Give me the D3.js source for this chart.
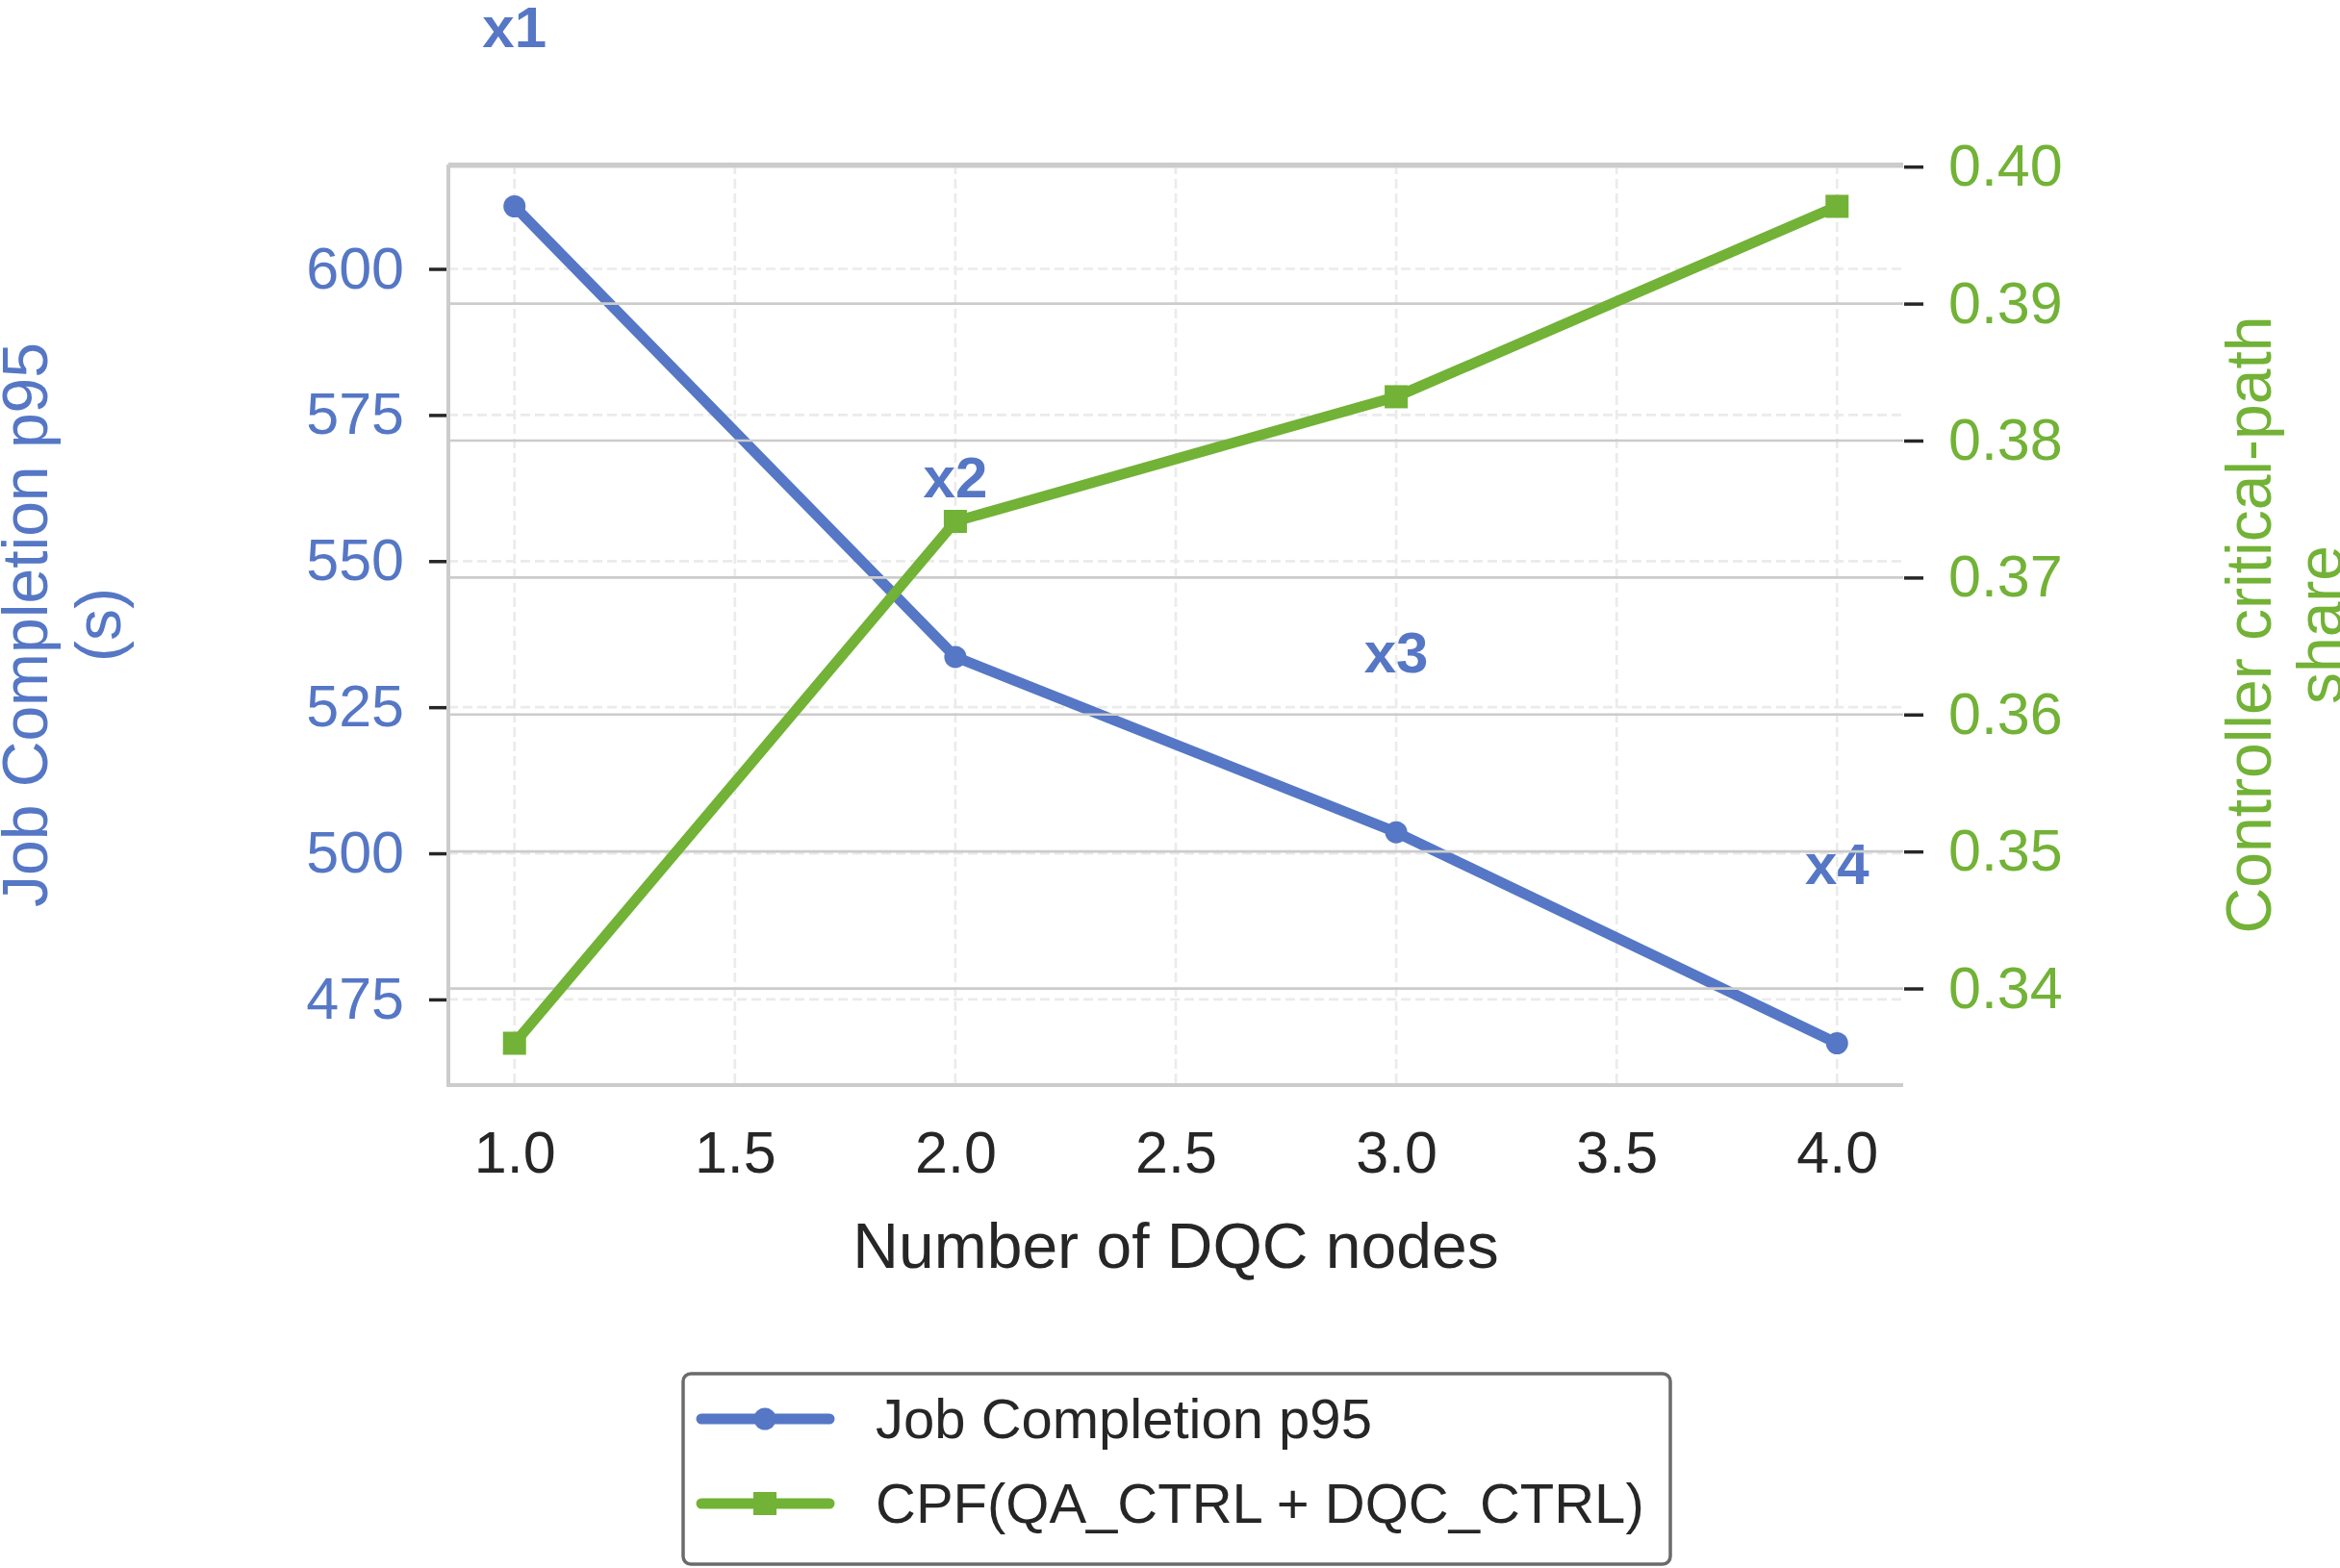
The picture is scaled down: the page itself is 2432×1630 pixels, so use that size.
<!DOCTYPE html>
<html>
<head>
<meta charset="utf-8">
<script src="https://cdn.jsdelivr.net/npm/d3@7"></script>
<style>
  body { margin: 0; background: #fff; }
  text { font-family: "Liberation Sans", Arial, sans-serif; }
</style>
</head>
<body>
<svg id="chart" width="2432" height="1630"></svg>
<script>
// data
const nodes = [1, 2, 3, 4];
const jobP95 = [610.7, 533.6, 503.6, 467.5];
const cpfShare = [0.3360, 0.3741, 0.3832, 0.3971];
const pointLabels = ["x1", "x2", "x3", "x4"];
const xTicks = [1.0, 1.5, 2.0, 2.5, 3.0, 3.5, 4.0];
const leftTicks = [475, 500, 525, 550, 575, 600];
const rightTicks = [0.34, 0.35, 0.36, 0.37, 0.38, 0.39, 0.40];
const seriesNames = ["Job Completion p95", "CPF(QA_CTRL + DQC_CTRL)"];

const BLUE = "#5577c5";
const GREEN = "#72b236";
const plot = { left: 466, right: 1978, top: 171, bottom: 1128 };

// matplotlib style 5% padding around the data
function padded(vals) {
    const lo = d3.min(vals), hi = d3.max(vals), m = (hi - lo) * 0.05;
    return [lo - m, hi + m];
}

const x = d3.scaleLinear().domain(padded(nodes)).range([plot.left, plot.right]);
const yL = d3.scaleLinear().domain(padded(jobP95)).range([plot.bottom, plot.top]);
const yR = d3.scaleLinear().domain(padded(cpfShare)).range([plot.bottom, plot.top]);

const svg = d3.select("#chart");

/* dashed grid of the left axis sits at the very bottom */
const gridL = svg.append("g").attr("id", "grid-left");
gridL.selectAll("line.v")
    .data(xTicks)
    .enter()
    .append("line")
    .attr("x1", d => x(d)).attr("x2", d => x(d))
    .attr("y1", plot.top).attr("y2", plot.bottom)
    .attr("stroke", "#ebebeb").attr("stroke-width", 2.7)
    .attr("stroke-dasharray", "10,5");
gridL.selectAll("line.h")
    .data(leftTicks)
    .enter()
    .append("line")
    .attr("x1", plot.left).attr("x2", plot.right)
    .attr("y1", d => yL(d)).attr("y2", d => yL(d))
    .attr("stroke", "#ebebeb").attr("stroke-width", 2.7)
    .attr("stroke-dasharray", "10,5");

const jobPts = nodes.map((n, i) => ({ x: n, y: jobP95[i] }));
const cpfPts = nodes.map((n, i) => ({ x: n, y: cpfShare[i] }));

// blue series on the left axis
const blueG = svg.append("g");
blueG.append("path")
    .datum(jobPts)
    .attr("d", d3.line().x(d => x(d.x)).y(d => yL(d.y)))
    .attr("fill", "none")
    .attr("stroke", BLUE)
    .attr("stroke-width", 11)
    .attr("stroke-linejoin", "round")
    .attr("stroke-linecap", "round");
blueG.selectAll("circle")
    .data(jobPts)
    .enter()
    .append("circle")
    .attr("cx", d => x(d.x))
    .attr("cy", d => yL(d.y))
    .attr("r", 11.5)
    .attr("fill", BLUE);

// annotation above each blue point
svg.append("g").selectAll("text")
    .data(jobPts)
    .enter()
    .append("text")
    .attr("x", d => x(d.x))
    .attr("y", d => yL(d.y) - 166)
    .attr("text-anchor", "middle")
    .attr("font-size", 60)
    .attr("font-weight", "bold")
    .attr("fill", BLUE)
    .text((d, i) => pointLabels[i]);

/* twin axis: its solid grid covers the blue line */
svg.append("g").attr("id", "grid-right")
    .selectAll("line")
    .data(rightTicks)
    .enter()
    .append("line")
    .attr("x1", plot.left).attr("x2", plot.right)
    .attr("y1", d => yR(d)).attr("y2", d => yR(d))
    .attr("stroke", "#cccccc").attr("stroke-width", 2.7);

const greenG = svg.append("g");
greenG.append("path")
    .datum(cpfPts)
    .attr("d", d3.line().x(d => x(d.x)).y(d => yR(d.y)))
    .attr("fill", "none")
    .attr("stroke", GREEN)
    .attr("stroke-width", 11)
    .attr("stroke-linejoin", "round")
    .attr("stroke-linecap", "round");
greenG.selectAll("rect")
    .data(cpfPts)
    .enter()
    .append("rect")
    .attr("x", d => x(d.x) - 12)
    .attr("y", d => yR(d.y) - 12)
    .attr("width", 24)
    .attr("height", 24)
    .attr("fill", GREEN);

// spines: left, bottom, top
const spines = svg.append("g").attr("stroke", "#cccccc").attr("stroke-width", 4);
spines.append("line").attr("x1", plot.left).attr("x2", plot.left).attr("y1", plot.top).attr("y2", plot.bottom + 2);
spines.append("line").attr("x1", plot.left).attr("x2", plot.right).attr("y1", plot.bottom).attr("y2", plot.bottom);
spines.append("line").attr("x1", plot.left).attr("x2", plot.right).attr("y1", plot.top).attr("y2", plot.top);

// axes
const axL = svg.append("g")
    .attr("transform", `translate(${plot.left - 2},0)`)
    .call(d3.axisLeft(yL).tickValues(leftTicks).tickFormat(d3.format("d")).tickSize(18).tickPadding(26));
axL.select(".domain").remove();
axL.selectAll(".tick line").attr("stroke", "#262626").attr("stroke-width", 3.5);
axL.selectAll(".tick text").attr("font-size", 61).attr("fill", BLUE)
    .attr("font-family", "Liberation Sans, Arial, sans-serif");

const axR = svg.append("g")
    .attr("transform", `translate(${plot.right + 1},0)`)
    .call(d3.axisRight(yR).tickValues(rightTicks).tickFormat(d3.format(".2f")).tickSize(20).tickPadding(26));
axR.select(".domain").remove();
axR.selectAll(".tick line").attr("stroke", "#262626").attr("stroke-width", 3.5);
axR.selectAll(".tick text").attr("font-size", 61).attr("fill", GREEN)
    .attr("font-family", "Liberation Sans, Arial, sans-serif");

const axB = svg.append("g")
    .attr("transform", `translate(0,${plot.bottom})`)
    .call(d3.axisBottom(x).tickValues(xTicks).tickFormat(d3.format(".1f")).tickSize(0).tickPadding(48));
axB.select(".domain").remove();
axB.selectAll(".tick text").attr("font-size", 61).attr("fill", "#262626")
    .attr("font-family", "Liberation Sans, Arial, sans-serif");

// axis titles
svg.append("text")
    .attr("x", (plot.left + plot.right) / 2)
    .attr("y", 1318)
    .attr("text-anchor", "middle")
    .attr("font-size", 66)
    .attr("fill", "#262626")
    .text("Number of DQC nodes");

const midY = (plot.top + plot.bottom) / 2;
const leftTitle = svg.append("text")
    .attr("transform", `translate(26,${midY}) rotate(-90)`)
    .attr("text-anchor", "middle")
    .attr("font-size", 66)
    .attr("fill", BLUE);
leftTitle.append("tspan").attr("x", 0).attr("dy", "0.35em").text("Job Completion p95");
leftTitle.append("tspan").attr("x", 0).attr("dy", 76).text("(s)");

const rightTitle = svg.append("text")
    .attr("transform", `translate(2337,${midY}) rotate(-90)`)
    .attr("text-anchor", "middle")
    .attr("font-size", 66)
    .attr("fill", GREEN);
rightTitle.append("tspan").attr("x", 0).attr("dy", "0.35em").text("Controller critical-path");
rightTitle.append("tspan").attr("x", 0).attr("dy", 74).text("share");

// legend
const legend = svg.append("g").attr("transform", "translate(710,1428)");
legend.append("rect")
    .attr("width", 1026).attr("height", 198)
    .attr("rx", 8)
    .attr("fill", "#fff")
    .attr("stroke", "#6b6b6b")
    .attr("stroke-width", 3.5);
const rows = legend.selectAll("g.row")
    .data(seriesNames)
    .enter()
    .append("g")
    .attr("transform", (d, i) => `translate(0,${47 + i * 88})`);
rows.append("line")
    .attr("x1", 19).attr("x2", 152)
    .attr("stroke", (d, i) => i === 0 ? BLUE : GREEN)
    .attr("stroke-width", 11)
    .attr("stroke-linecap", "round");
rows.filter((d, i) => i === 0).append("circle")
    .attr("cx", 85).attr("r", 11.5).attr("fill", BLUE);
rows.filter((d, i) => i === 1).append("rect")
    .attr("x", 73).attr("y", -12).attr("width", 24).attr("height", 24).attr("fill", GREEN);
rows.append("text")
    .attr("x", 200)
    .attr("dy", "0.35em")
    .attr("font-size", 58)
    .attr("fill", "#262626")
    .text(d => d);
</script>
</body>
</html>
